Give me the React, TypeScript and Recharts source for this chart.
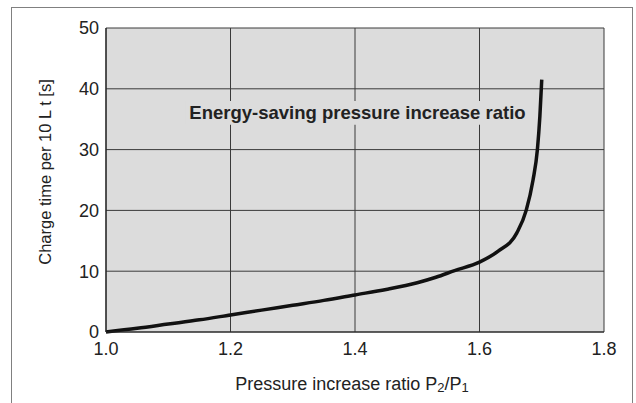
import React from "react";
import {
  CartesianGrid,
  Line,
  LineChart,
  ReferenceArea,
  XAxis,
  YAxis,
} from "recharts";

const ratio = [1.0, 1.05, 1.1, 1.15, 1.2, 1.25, 1.3, 1.35, 1.4, 1.45, 1.5, 1.53, 1.56, 1.6, 1.63, 1.66, 1.675, 1.686, 1.693, 1.697, 1.7];
const chargeTime = [0, 0.6, 1.3, 2.0, 2.8, 3.6, 4.4, 5.2, 6.1, 7.0, 8.1, 9.0, 10.1, 11.5, 13.3, 16.3, 20, 25, 30, 35.5, 41.5];
const xTicks = [1.0, 1.2, 1.4, 1.6, 1.8];
const yTicks = [0, 10, 20, 30, 40, 50];

const data = ratio.map((r, i) => ({ r, t: chargeTime[i] }));

const FONT = '"Liberation Sans", Arial, sans-serif';
const TICK = { fill: "#222", fontSize: 18, fontFamily: FONT };

function XTitle() {
  return (
    <text x={352} y={390} textAnchor="middle" fill="#222" fontSize={18} fontFamily={FONT}>
      Pressure increase ratio P<tspan fontSize={13} dy={2}>2</tspan>
      <tspan dy={-2}>/P</tspan>
      <tspan fontSize={13} dy={2}>1</tspan>
    </text>
  );
}

function YTitle() {
  const cx = 45;
  const cy = 172;
  return (
    <text
      x={cx}
      y={cy}
      transform={`rotate(-90 ${cx} ${cy})`}
      textAnchor="middle"
      dominantBaseline="central"
      fill="#222"
      fontSize={16.5}
      fontFamily={FONT}
    >
      Charge time per 10 L t [s]
    </text>
  );
}

export default function App() {
  return (
    <div style={{ position: "absolute", left: 0, top: 0, width: 636, height: 403, overflow: "hidden", background: "#fff" }}>
      <div
        style={{
          position: "absolute",
          left: 11,
          top: 7,
          width: 620,
          height: 420,
          border: "1.5px solid #808080",
          borderBottom: "none",
        }}
      />
      <div style={{ position: "absolute", left: 0, top: 0 }}>
        <LineChart width={636} height={403} data={data} margin={{ top: 28, right: 32, left: 0, bottom: 0 }}>
          <CartesianGrid stroke="#3a3a3a" strokeWidth={1} fill="#dcdcdc" fillOpacity={1} />
          <XAxis
            dataKey="r"
            type="number"
            domain={[1.0, 1.8]}
            ticks={xTicks}
            tickFormatter={(v: number) => v.toFixed(1)}
            tick={TICK}
            tickLine={false}
            tickMargin={4}
            axisLine={{ stroke: "#222", strokeWidth: 1.2 }}
            height={71}
            label={{ content: XTitle }}
          />
          <YAxis
            type="number"
            domain={[0, 50]}
            ticks={yTicks}
            tick={TICK}
            tickLine={false}
            tickMargin={1}
            axisLine={{ stroke: "#222", strokeWidth: 1.2 }}
            width={106}
            label={{ content: YTitle }}
          />
          <ReferenceArea
            x1={1.127}
            x2={1.681}
            y1={34.1}
            y2={38}
            fill="#dcdcdc"
            fillOpacity={1}
            stroke="none"
            label={{
              value: "Energy-saving pressure increase ratio",
              position: "center",
              fill: "#222",
              fontSize: 18.5,
              fontWeight: "bold",
              fontFamily: FONT,
            }}
          />
          <Line
            type="monotone"
            dataKey="t"
            stroke="#111"
            strokeWidth={3.5}
            dot={false}
            isAnimationActive={false}
          />
        </LineChart>
      </div>
    </div>
  );
}
